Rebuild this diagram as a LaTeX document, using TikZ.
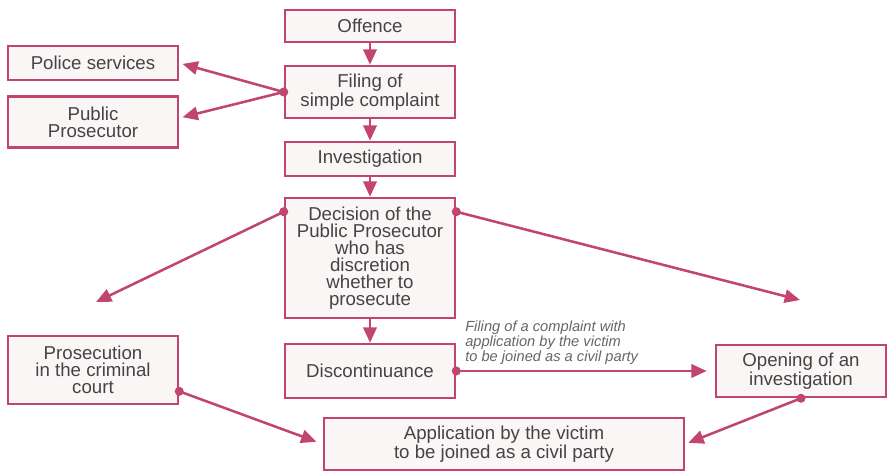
\documentclass[tikz,border=0pt]{standalone}
\usepackage{fontspec}
\setmainfont{Liberation Sans}
\usetikzlibrary{arrows.meta}
\definecolor{pinkline}{HTML}{C2456F}
\definecolor{boxfill}{HTML}{FAF6F5}
\definecolor{txt}{HTML}{444444}
\definecolor{lbl}{HTML}{666666}
\tikzset{
  box/.style={draw=pinkline, fill=boxfill, line width=1.9pt, text=txt, align=center,
    font=\fontsize{14}{12.75}\selectfont, inner sep=0pt, minimum width=127.5pt},
  conn/.style={draw=pinkline, line width=1.9pt, -{Triangle[length=11.5pt,width=10pt]}},
  dot/.style={fill=pinkline}
}
\begin{document}
\begin{tikzpicture}[x=0.75pt,y=-0.75pt]
\useasboundingbox (0,0) rectangle (889,471);
\node[box, minimum height=24pt] (offence) at (370,26) {Offence};
\node[box, minimum height=39pt] (filing) at (370,92) {Filing of\\simple complaint};
\node[box, minimum height=25.5pt] (police) at (93,63) {Police services};
\node[box, minimum height=38.25pt] (public) at (93,122) {Public\\Prosecutor};
\node[box, minimum height=25.5pt] (invest) at (370,159) {Investigation};
\node[box, minimum height=90pt] (decision) at (370,258) {Decision of the\\Public Prosecutor\\who has\\discretion\\whether to\\prosecute};
\node[box, minimum height=40.5pt] (discont) at (370,371) {Discontinuance};
\node[box, minimum height=51pt] (prosec) at (93,370) {Prosecution\\in the criminal\\court};
\node[box, minimum height=39pt] (opening) at (801,371) {Opening of an\\investigation};
\node[box, minimum height=39pt, minimum width=270pt] (app) at (504,444) {Application by the victim\\to be joined as a civil party};
\node[anchor=north west, inner sep=0pt, align=left, text=lbl,
  font=\fontsize{11}{11}\selectfont\itshape] (label) at (465,321)
  {Filing of a complaint with\\application by the victim\\to be joined as a civil party};
\coordinate (lefttip) at (96,302);
\coordinate (righttip) at (800,300);
\coordinate (dnw) at (decision.north west);
\coordinate (dne) at (decision.north east);
\coordinate (dnwd) at ([yshift=-11.25pt]dnw);
\coordinate (dned) at ([yshift=-11.25pt]dne);
\coordinate (pse) at ([yshift=-16pt]prosec.east);
\coordinate (pubt) at ([yshift=3pt]public.east);
% connectors
\draw[conn] (offence) -- (filing);
\draw[conn] (filing) -- (invest);
\draw[conn] (invest) -- (decision);
\draw[conn] (decision) -- (discont);
\draw[conn, shorten >=2.5pt] (filing.west) -- (police.east);
\draw[conn, shorten >=2.5pt] (filing.west) -- (pubt);
\draw[conn] (dnwd) -- (lefttip);
\draw[conn] (dned) -- (righttip);
\draw[conn, shorten >=6pt] (discont.east) -- (opening.west);
\draw[conn, shorten >=5pt] (pse) -- (app.west);
\draw[conn, shorten >=2.5pt] (opening.south) -- (app.east);
% dots
\fill[dot] (filing.west) circle (3.4pt);
\fill[dot] (dnwd) circle (3.4pt);
\fill[dot] (dned) circle (3.4pt);
\fill[dot] (discont.east) circle (3.4pt);
\fill[dot] (pse) circle (3.4pt);
\fill[dot] (opening.south) circle (3.4pt);
\end{tikzpicture}
\end{document}
